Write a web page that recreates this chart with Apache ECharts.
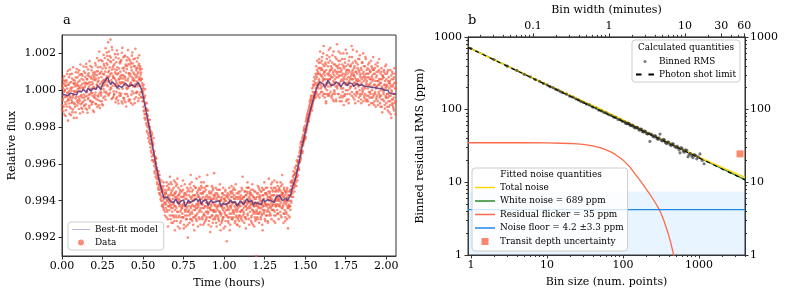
<!DOCTYPE html>
<html><head><meta charset="utf-8">
<script src="https://cdn.jsdelivr.net/npm/echarts@6/dist/echarts.min.js"></script>
<style>html,body{margin:0;padding:0;background:#fff}#c{width:789px;height:297px}</style>
</head><body><div id="c"></div>
<script>
// ---------- Panel a: light curve ----------
// two interleaved exposure sets (set B is offset by half a step)
const dataStartHours = 0;
const dataStepHours = 0.002;
const dataOffsetHoursB = 0.001;
// relative flux of each exposure, in ppm from 1
const dataFluxPpmA = [
-820,310,-540,120,-1150,480,-90,760,-380,20,
-650,-1400,250,-310,540,-880,90,-160,1050,-470,
300,-720,-60,-1280,410,860,-350,-980,150,-520,
-30,640,-1190,-400,1250,-260,380,-700,-50,520,
-900,210,-450,980,-110,-1500,330,-620,700,60,
450,-350,-1020,120,830,-580,-40,1400,-760,260,
-260,880,-690,350,-1180,90,560,-420,1020,-830,
160,-540,720,-990,410,1260,-310,-70,590,-1220,
-480,380,920,-240,-840,1580,40,-560,290,700,
-120,1080,-650,430,-300,810,-1100,590,150,-390,
980,-260,540,-720,1350,110,-480,820,300,-900,
450,1250,-340,680,-820,2100,190,-580,930,-90,
1640,-150,720,-600,380,1180,-820,520,60,1420,
860,-90,1750,420,-510,1200,640,-180,2050,300,
1380,220,2600,680,-220,1050,460,1860,-150,870,
150,1520,560,-480,1130,2200,240,780,-360,1340,
680,-200,1420,330,980,-650,1780,520,-90,1100,
-380,860,1960,240,-720,620,1180,-150,430,1530,
1010,-300,650,1640,-620,390,2300,80,820,-420,
420,1220,-540,760,1880,-210,560,1320,-880,260,
1150,70,1790,-330,640,1420,-600,930,240,1610,
-520,880,420,1500,-240,1080,300,2050,-780,650,
960,-160,1300,540,-700,1720,180,820,-380,1180,
480,1560,-90,900,220,-600,1340,620,1900,-240,
700,1300,-100,520,960,-350,620,80,-420,240,
-180,-900,300,-1150,-420,-1300,50,-1600,-700,-1050,
-1500,-700,-2200,-1100,-2000,-1400,-2600,-1600,-1950,-2500,
-2300,-1600,-2900,-2200,-3300,-2500,-2700,-3600,-2400,-3200,
-3000,-3800,-2600,-3500,-4100,-3300,-4500,-3600,-4200,-3700,
-4300,-3700,-4800,-4200,-5100,-4400,-4700,-5400,-4600,-4900,
-5200,-4600,-5600,-5000,-5900,-5300,-4900,-5800,-5500,-6200,
-5300,-6300,-5800,-5000,-6500,-5700,-6100,-5400,-6800,-5600,
-6400,-5500,-6900,-5900,-5200,-6600,-6000,-7400,-5700,-6300,
-5300,-6500,-5900,-4700,-6200,-7000,-5600,-6400,-5100,-6800,
-6600,-5400,-7200,-6100,-5700,-6900,-4900,-6300,-7600,-5800,
-5600,-6800,-5200,-6400,-7100,-5900,-4800,-6600,-6100,-5300,
-6900,-5700,-6300,-7500,-5400,-6600,-6000,-7100,-5200,-6400,
-5500,-6700,-6200,-4900,-6900,-5800,-7300,-6100,-5600,-6500,
-6800,-5600,-7400,-6300,-5900,-7000,-5300,-6600,-8000,-6100,
-5400,-6500,-6100,-7200,-5100,-6700,-5800,-4600,-6300,-7000,
-6600,-5500,-7100,-6000,-5700,-6900,-6300,-5200,-7600,-5900,
-5700,-6800,-5300,-6400,-7000,-4800,-6200,-6700,-5500,-6100,
-6300,-5400,-6900,-5800,-4700,-6500,-6100,-7300,-5600,-5200,
-6600,-5900,-5300,-7000,-6200,-5600,-6800,-5000,-6400,-7200,
-5500,-6300,-7100,-5800,-6600,-5200,-6900,-6100,-4600,-6400,
-6700,-5800,-7300,-6100,-5500,-6900,-6400,-7700,-5900,-6200,
-5600,-6500,-5200,-6800,-6100,-7200,-5400,-6600,-5900,-4500,
-6500,-5700,-7000,-6200,-5300,-6800,-6000,-7400,-5600,-6300,
-5800,-6900,-6300,-5400,-7100,-6000,-6600,-5100,-6700,-7600,
-6800,-5900,-7200,-6300,-5600,-7000,-6500,-5300,-6900,-6100,
-5700,-6600,-6000,-7400,-5400,-6800,-6200,-5800,-8200,-6300,
-6500,-5600,-7100,-6100,-5900,-6900,-5300,-6700,-6300,-7300,
-5600,-6400,-6900,-5200,-6200,-7000,-5800,-6600,-5400,-6100,
-6700,-5700,-6300,-7200,-5900,-6500,-5100,-6900,-6200,-5600,
-6600,-7300,-5800,-6400,-6900,-5500,-7100,-6200,-5900,-6800,
-5500,-6600,-6100,-7000,-5300,-6500,-5900,-4700,-6800,-6200,
-6400,-5800,-7200,-6000,-5500,-6900,-6300,-7500,-5700,-6100,
-5500,-6400,-5000,-6700,-6100,-5300,-7000,-5800,-6300,-5600,
-6600,-5700,-6200,-7100,-5400,-6800,-6000,-5100,-6500,-7300,
-5800,-6700,-6300,-7400,-5900,-6600,-5500,-7000,-6200,-9000,
-6500,-5600,-6900,-6100,-5200,-6700,-6300,-5800,-7200,-5400,
-5700,-6600,-6000,-7000,-5500,-6400,-6800,-5300,-6200,-7600,
-6300,-5400,-6700,-5900,-5000,-6500,-6100,-7100,-5600,-6200,
-5600,-6800,-6200,-5300,-6500,-7200,-5800,-6400,-4800,-6600,
-6200,-5500,-6700,-5800,-6400,-5100,-7000,-5900,-6300,-5400,
-5500,-6500,-6000,-7100,-5700,-4900,-6600,-6200,-5300,-6800,
-6300,-5400,-6000,-5000,-6700,-5800,-6200,-5500,-7000,-5900,
-5300,-6200,-5800,-6600,-5000,-6100,-5500,-6900,-5700,-4600,
-6400,-5600,-6200,-7200,-5800,-5300,-6700,-6000,-5500,-6900,
-5500,-6600,-6100,-5400,-7000,-5800,-6300,-7500,-5700,-6400,
-6200,-5700,-6900,-5500,-6300,-5000,-6000,-5400,-4900,-5800,
-5000,-5600,-4700,-5300,-4400,-5100,-4600,-5500,-4200,-4900,
-4500,-5000,-4100,-4700,-3800,-4400,-4900,-3900,-4300,-3600,
-3800,-4300,-3400,-3900,-3100,-3600,-2900,-3700,-3300,-2800,
-3000,-2600,-3300,-2500,-2900,-2200,-2700,-2000,-2500,-2300,
-2100,-2600,-1700,-2200,-1500,-2000,-1300,-1800,-1600,-1100,
-1300,-1700,-900,-1400,-600,-1200,-500,-1000,-300,-900,
-500,-1100,100,-700,300,-400,500,-300,700,-100,
400,-300,900,100,1300,-200,700,1600,200,1000,
900,100,1500,500,-400,1200,2100,300,800,-100,
1200,200,1800,700,-300,1400,600,2400,300,1000,
-400,800,1500,100,-700,1100,400,1900,-200,600,
1300,200,900,2200,-300,1000,600,1600,-100,800,
700,-400,1200,300,1900,-200,900,500,-600,1400,
-100,1100,600,1800,200,-500,1300,700,2500,100,
1000,300,1600,-200,800,1400,400,-600,1200,2000,
500,-300,1100,600,1700,-400,900,100,1300,-800,
1200,400,-300,1500,800,2200,0,1000,600,-500,
-200,900,1400,300,-700,1100,500,1800,100,700,
1300,200,800,2400,-100,1000,600,1500,-400,900,
400,1200,-500,700,1600,100,-300,1000,500,2100,
900,-200,1400,500,-600,1100,300,1700,0,800,
-300,700,1200,-700,400,1500,100,-100,900,2000,
1000,200,-400,800,1300,-200,600,1700,300,-600,
500,-500,900,100,1400,-300,700,-800,1100,300,
-100,1000,400,1600,-400,700,0,1200,500,-700,
600,-300,1100,-800,300,900,-200,1400,100,-500,
-400,800,200,1300,-600,500,1000,-200,1700,300,
400,-700,900,0,-300,1200,-900,600,100,800,
-500,700,-100,1000,300,-800,500,1300,-300,200,
600,-400,900,-900,200,-200,1100,-600,400,-1200,
-300,500,-800,300,-1300,800,0,-500,1000,-700,
200,-900,600,-400,-1100,400,-200,900,-600,100
];
const dataFluxPpmB = [
-1050,150,-480,620,-260,-890,340,-1320,-20,510,
230,-760,-1080,420,-350,880,-580,-120,-1650,300,
-540,710,-230,-900,1120,-410,60,-1350,450,-690,
890,-620,150,-1040,-280,560,-1500,320,-80,-760,
380,-1200,690,-350,-60,1150,-830,240,-540,960,
-700,240,1080,-470,520,-1260,130,-310,870,-950,
620,-380,-1010,790,140,-620,1290,-230,-840,400,
-340,940,280,-760,1430,-120,610,-1050,350,820,
1120,-410,190,760,-950,450,-220,1320,-600,80,
640,-780,1250,-150,320,-640,950,170,-1180,710,
-380,860,1480,-120,620,-760,1020,280,1750,-290,
1040,-530,520,1610,-190,880,-970,340,1260,60,
-280,1020,460,-760,1580,230,890,-410,1920,570,
1320,280,-340,1010,2280,560,-80,1470,740,1860,
480,1650,980,-280,2100,760,1240,30,1580,2750,
1780,90,920,2350,430,-420,1260,680,1640,-60,
-250,1140,620,1960,230,890,-480,1520,410,2160,
1250,310,-560,920,1720,80,580,-290,1460,740,
360,1580,-190,820,2040,440,-720,1200,640,1780,
1060,-420,1840,290,690,-650,1390,960,120,1620,
-200,1320,520,2180,140,900,-500,1700,780,280,
1400,380,-690,1240,730,1880,-60,560,1450,200,
1680,520,880,-480,1300,320,2250,690,-150,1070,
-100,1200,750,1760,320,980,-450,1440,560,1200,
1100,240,850,-380,600,1150,-100,380,-600,-50,
-600,100,-1100,-400,-1500,-800,-300,-1300,-1000,-1800,
-1000,-1900,-1300,-2300,-1700,-1100,-2400,-1800,-2800,-2100,
-2700,-2000,-3100,-2500,-2900,-3400,-2300,-3800,-2800,-3000,
-3500,-2900,-3900,-3400,-3800,-4400,-3600,-4000,-4700,-3900,
-4000,-4600,-4300,-5000,-4500,-4800,-5300,-4400,-5100,-5600,
-4800,-5400,-5100,-5700,-5300,-6000,-5200,-5500,-6300,-5400,
-6000,-5500,-6400,-5200,-5900,-6200,-5600,-6600,-5800,-6100,
-5600,-6200,-5000,-6500,-6000,-5400,-7000,-5800,-6300,-5100,
-6100,-5400,-6800,-5700,-6300,-5000,-6000,-7200,-5500,-6200,
-5700,-6400,-5900,-6800,-5300,-6200,-7100,-5600,-6500,-5000,
-6300,-5500,-6900,-5800,-5100,-6600,-6100,-7400,-5700,-6000,
-5900,-6800,-5600,-6200,-7200,-5500,-6500,-5800,-6900,-6300,
-6400,-5800,-6900,-5400,-6200,-7500,-5700,-6300,-5100,-6600,
-5900,-6500,-7000,-5700,-6400,-6800,-5500,-7300,-6100,-6600,
-6300,-5700,-6800,-5500,-6100,-7000,-5300,-6400,-5900,-5000,
-5800,-6700,-6200,-5400,-7300,-6000,-6500,-5700,-6900,-6300,
-6500,-5900,-5300,-6800,-6200,-7100,-5600,-6400,-5800,-7400,
-5700,-6200,-6600,-5300,-7000,-5900,-5400,-6400,-6100,-5000,
-6200,-5600,-6900,-6400,-5800,-7300,-5500,-6700,-6000,-5300,
-6800,-5900,-6300,-5400,-7000,-6100,-5700,-6600,-5200,-6300,
-5900,-6600,-6200,-7100,-5600,-6400,-5800,-6900,-6500,-7400,
-6300,-5500,-6800,-5900,-5300,-6500,-7000,-5700,-6200,-6600,
-5800,-6900,-6300,-5600,-6600,-7200,-5900,-6400,-5400,-6800,
-6500,-5700,-7000,-6200,-5800,-6600,-5400,-7300,-6000,-6300,
-6000,-6700,-5800,-7100,-6400,-5600,-6900,-6200,-7500,-5900,
-6400,-5900,-6700,-5500,-7100,-6000,-6500,-5700,-6800,-6200,
-5800,-6900,-6400,-7200,-5700,-6500,-6100,-7600,-6000,-5500,
-6300,-5800,-6700,-5500,-7000,-6100,-5600,-6500,-6900,-5300,
-5900,-6600,-6100,-5400,-7100,-6400,-5800,-6800,-6200,-7300,
-6500,-5900,-7000,-6200,-5600,-6800,-6300,-7400,-5800,-6600,
-6300,-5700,-6900,-5900,-6500,-5400,-7100,-6100,-5800,-6600,
-5800,-6700,-6100,-5500,-6900,-6300,-5700,-7000,-6500,-5300,
-6200,-5600,-6800,-5900,-5300,-6400,-6000,-7300,-5500,-6100,
-5900,-6400,-5600,-6900,-6200,-7200,-5700,-6500,-6100,-5400,
-6600,-5800,-6300,-5500,-6900,-6100,-7100,-5900,-6700,-6300,
-5800,-6600,-6200,-7000,-5600,-6400,-5300,-6700,-6100,-5900,
-6400,-5800,-6900,-6200,-5500,-6700,-6000,-7300,-5700,-6500,
-5700,-6300,-5400,-6600,-6100,-7000,-5600,-6200,-5300,-6800,
-6300,-5700,-6600,-5900,-7100,-6200,-5500,-6800,-6000,-5800,
-5600,-6300,-5900,-6800,-5300,-6100,-5700,-6500,-5000,-6200,
-6200,-5700,-6500,-5300,-6800,-6000,-5500,-7200,-5900,-6300,
-5500,-6200,-5700,-6500,-5900,-5200,-6700,-6000,-5400,-6300,
-6000,-5400,-6300,-5700,-6800,-5200,-5900,-6400,-5600,-5100,
-5600,-6300,-5800,-6700,-5400,-6100,-6500,-5700,-7100,-6000,
-6200,-5600,-6700,-5900,-5300,-6400,-6000,-5500,-6800,-6300,
-5700,-6300,-6000,-5400,-6500,-5700,-5200,-6100,-5500,-5000,
-5400,-4900,-5800,-5100,-4600,-5300,-4800,-5100,-4500,-5200,
-4800,-4300,-5200,-4500,-4100,-4700,-3900,-4600,-4000,-4300,
-4200,-3600,-3900,-3300,-3800,-3200,-3500,-2800,-3400,-3000,
-2800,-3400,-2700,-3000,-2400,-2800,-2100,-2700,-2200,-2600,
-2500,-1900,-2300,-1600,-2100,-1400,-1900,-1500,-1200,-1700,
-1600,-1000,-1500,-800,-1300,-700,-1100,-400,-1000,-600,
-900,-300,-800,-100,-600,200,-500,-200,300,-400,
-100,600,-400,800,300,-100,1100,400,900,-300,
300,1200,600,1700,-200,900,400,1500,100,1100,
800,1600,-100,1100,500,2000,900,-200,1300,600,
1000,-200,600,1400,-600,300,1700,0,900,-300,
400,1500,800,-200,1800,600,1100,2300,200,1300,
1100,300,-300,1500,700,-500,1000,2100,400,0,
800,-200,1400,400,1000,-600,1700,200,900,1300,
-200,1200,700,2100,300,1000,-400,1600,800,200,
1000,100,-600,800,1400,-100,500,2000,-300,700,
600,1700,-200,900,300,1300,-600,1100,2000,400,
1100,0,700,-500,1600,400,1000,-200,1300,600,
200,1400,900,-300,1800,600,1100,2200,300,800,
800,-200,1300,400,-700,1000,600,1500,-100,300,
-100,1200,600,1700,200,-400,1000,500,1900,-200,
900,300,-500,1100,600,-200,1500,0,700,-600,
500,1300,-300,700,100,1800,-500,900,400,1100,
-300,700,1200,-600,300,900,-100,1500,-400,600,
1000,-200,600,-700,1300,200,800,-400,1100,1800,
-200,900,300,-600,1200,-100,500,-900,700,200,
1000,-300,500,1500,-800,300,-100,1100,600,-400,
-300,600,-900,400,1000,-500,200,-1200,800,0,
700,-200,1100,-600,300,-1000,900,100,-400,1400,
-700,300,-200,1000,-1100,500,-400,700,-900,100,
400,-600,1100,-300,200,-1500,600,-100,-800,900,
-500,300,-1000,700,-200,1200,-700,100,-1300,400
];
const modelStartHours = 0;
const modelStepHours = 0.01;
const modelFluxPpm = [
-200,-100,-250,-150,-300,-150,-50,-200,-150,-250,
-50,-150,-100,50,0,-100,100,0,-50,100,
150,50,250,150,50,300,450,350,700,500,
300,450,550,300,100,250,350,150,250,400,
450,200,100,300,400,200,250,450,350,50,
-300,-750,-1200,-1650,-2100,-2600,-3100,-3600,-4100,-4500,
-4900,-5250,-5600,-5850,-5950,-5800,-5900,-6050,-5950,-6100,
-5900,-6050,-6200,-6050,-6150,-5950,-6300,-6150,-5950,-6100,
-6200,-6000,-6100,-5900,-6050,-5900,-6200,-6000,-6100,-5950,
-6250,-6100,-5950,-6100,-6200,-6050,-6150,-6000,-6300,-6150,
-6050,-6200,-6250,-6100,-5950,-6100,-6200,-6050,-6300,-6150,
-6000,-6100,-6200,-6050,-5900,-6050,-6150,-6000,-6250,-6100,
-6000,-6150,-6050,-6200,-5900,-6050,-6100,-5950,-5850,-6000,
-5950,-6100,-5800,-5900,-5700,-5850,-6000,-5900,-5850,-6000,
-6050,-5700,-5300,-5050,-4800,-4400,-4000,-3550,-3100,-2700,
-2300,-1900,-1500,-1150,-800,-500,-200,100,300,450,
500,350,150,300,550,400,250,350,300,450,
500,350,200,300,450,350,250,400,500,350,
200,300,400,250,150,300,350,200,100,200,
300,150,50,150,250,100,0,100,150,0,
-100,0,-150,-50,-200,-150,-200
];
const timeTicks = [0, 0.25, 0.5, 0.75, 1.0, 1.25, 1.5, 1.75, 2.0];
const fluxTicks = [0.992, 0.994, 0.996, 0.998, 1.000, 1.002];

// ---------- Panel b: binned RMS ----------
const rmsBinSizes = [1,2,3,4,5,6,7,8,9,10,11,12,13,14,15,16,18,20,22,24,26,28,30,33,36,40,44,48,52,56,60,65,70,75,80,86,92,98,
  105,108,112,116,120,124,128,132,136,140,145,150,155,160,165,170,175,180,186,192,198,204,210,218,226,232,240,248,255,262,270,280,290,298,307,318,330,340,350,362,375,388,400,415,430,445,460,480,500,515,529,545,562,580,600,620,640,665,690,716,740,770,800,832,865,900,935,970,1030,1100,1165];
const rmsValuesPpm = [690,488,396,346,306,282,259,245,228,219,207,200,190,185,177,171,163,153,148,140,136,129,126,119,116,108,105,98,96,91,90,85,83,79,78,73,73,69,
  68,65,64,65,64,61,60,61,60,57,56,57,57,54,52,54,54,50,49,51,50,47,46,47,36.5,46,45,43,42,44,43,40,39,41,46,38,37,39,38.5,35,34,36,35.5,33,32,34,33.5,31,30,31.5,30,28,25.4,30,29,27,26,28,27.5,22.4,24,25,23,21.8,24,23.5,21,22.4,24.6,20,18];
const lineBins = [0.913, 4027];
const whiteNoisePpm = [721, 10.86];
const photonLimitPpm = [717, 10.8];
const totalNoiseBins = [0.913, 1, 2, 5, 10, 20, 50, 100, 200, 300, 500, 1000, 2000, 4027];
const totalNoisePpm = [722, 690, 488, 310, 221, 158, 102, 72, 49.6, 40.1, 31.1, 22.2, 16, 11.7];
const flickerBins = [0.913, 5, 10, 20, 30, 40, 50, 60, 70, 80, 90, 100, 120, 140, 160, 180, 200, 225, 250, 275, 300, 325, 350, 375, 400, 425, 450, 475, 500];
const flickerPpm = [35, 35, 34.8, 34.2, 33.2, 31.8, 30, 28, 26, 24, 22, 20.2, 16.8, 13.6, 11.3, 9.6, 8.2, 6.9, 5.8, 4.95, 4.2, 3.5, 2.85, 2.3, 1.85, 1.47, 1.15, 0.9, 0.7];
const noiseFloorPpm = 4.2;
const noiseFloorErrPpm = 3.3;
const transitDepthBin = 3467;
const transitDepthUncPpm = 24.6;
const minutesPerPoint = 0.917 / 60;
const binTicks = [1, 10, 100, 1000];
const binMinorTicks = [2,3,4,5,6,7,8,9,20,30,40,50,60,70,80,90,200,300,400,500,600,700,800,900,2000,3000,4000];
const minuteTicks = [0.1, 1, 10, 30, 60];
const minuteMinorTicks = [0.02,0.03,0.04,0.05,0.06,0.07,0.08,0.09,0.2,0.3,0.4,0.5,0.6,0.7,0.8,0.9,2,3,4,5,6,7,8,9,20,40,50];
const rmsTicks = [1, 10, 100, 1000];
const rmsMinorTicks = [2,3,4,5,6,7,8,9,20,30,40,50,60,70,80,90,200,300,400,500,600,700,800,900];

// ---------- build ----------
const FONT = 'DejaVu Serif';
const AX = '#333';
const dataPts = dataFluxPpmA.map((v, i) => [dataStartHours + i * dataStepHours, 1 + v * 1e-6])
  .concat(dataFluxPpmB.map((v, i) => [dataStartHours + dataOffsetHoursB + i * dataStepHours, 1 + v * 1e-6]));
const modelPts = modelFluxPpm.map((v, i) => [modelStartHours + i * modelStepHours, 1 + v * 1e-6]);
const zip = (a, b) => a.map((x, i) => [x, b[i]]);
const binMin = lineBins[0], binMax = lineBins[1];

const lbl = (extra) => Object.assign({color: '#000', fontFamily: FONT, fontSize: 11}, extra);
function majorAxis(o) {
  return Object.assign({
    axisLine: {show: true, lineStyle: {color: AX, width: 1}},
    splitLine: {show: false},
  }, o);
}
function minorAxis(o) {
  return Object.assign({
    axisLine: {show: false},
    splitLine: {show: false},
    axisLabel: {show: false},
  }, o);
}
const tick = (vals, len) => ({show: true, length: len, lineStyle: {color: AX}, customValues: vals});
const nameStyle = {color: '#000', fontFamily: FONT, fontSize: 11};
const legText = {color: '#000', fontFamily: FONT, fontSize: 8.9, lineHeight: 11};
const LINE_ICON = 'path://M0,0h20v1.5h-20z';
const DASH_ICON = 'path://M0,0h4v1.4h-4zM9,0h4v1.4h-4z';

const option = {
  animation: false,
  backgroundColor: '#fff',
  grid: [
    {left: 62, top: 35, width: 334, height: 221, show: true, borderColor: AX, borderWidth: 1, backgroundColor: 'transparent'},
    {left: 468, top: 35, width: 277, height: 220, show: true, borderColor: AX, borderWidth: 1, backgroundColor: 'transparent'}
  ],
  xAxis: [
    majorAxis({type: 'value', gridIndex: 0, min: 0, max: 2.06, axisTick: tick(timeTicks, 3.5),
      axisLabel: lbl({customValues: timeTicks, margin: 5, formatter: v => v.toFixed(2)}),
      name: 'Time (hours)', nameLocation: 'middle', nameGap: 22, nameTextStyle: nameStyle}),
    majorAxis({type: 'log', gridIndex: 1, min: binMin, max: binMax, position: 'bottom', axisTick: tick(binTicks, 3.5),
      axisLabel: lbl({customValues: binTicks, margin: 5, formatter: v => String(v)}),
      name: 'Bin size (num. points)', nameLocation: 'middle', nameGap: 22, nameTextStyle: nameStyle}),
    minorAxis({type: 'log', gridIndex: 1, min: binMin, max: binMax, position: 'bottom', axisTick: tick(binMinorTicks, 2)}),
    majorAxis({type: 'log', gridIndex: 1, min: binMin * minutesPerPoint, max: binMax * minutesPerPoint, position: 'top',
      axisTick: tick(minuteTicks, 3.5),
      axisLabel: lbl({customValues: minuteTicks, margin: 5, formatter: v => String(v)}),
      name: 'Bin width (minutes)', nameLocation: 'middle', nameGap: 14, nameTextStyle: nameStyle}),
    minorAxis({type: 'log', gridIndex: 1, min: binMin * minutesPerPoint, max: binMax * minutesPerPoint, position: 'top',
      axisTick: tick(minuteMinorTicks, 2)})
  ],
  yAxis: [
    majorAxis({type: 'value', gridIndex: 0, min: 0.991, max: 1.003, axisTick: tick(fluxTicks, 3.5),
      axisLabel: lbl({customValues: fluxTicks, margin: 6, formatter: v => v.toFixed(3)}),
      name: 'Relative flux', nameLocation: 'middle', nameGap: 44, nameTextStyle: nameStyle}),
    majorAxis({type: 'log', gridIndex: 1, min: 1, max: 1000, position: 'left', axisTick: tick(rmsTicks, 3.5),
      axisLabel: lbl({customValues: rmsTicks, margin: 6, formatter: v => String(v)}),
      name: 'Binned residual RMS (ppm)', nameLocation: 'middle', nameGap: 42, nameTextStyle: nameStyle}),
    minorAxis({type: 'log', gridIndex: 1, min: 1, max: 1000, position: 'left', axisTick: tick(rmsMinorTicks, 2)}),
    majorAxis({type: 'log', gridIndex: 1, min: 1, max: 1000, position: 'right', axisTick: tick(rmsTicks, 3.5),
      axisLabel: lbl({customValues: rmsTicks, margin: 5, formatter: v => String(v)})}),
    minorAxis({type: 'log', gridIndex: 1, min: 1, max: 1000, position: 'right', axisTick: tick(rmsMinorTicks, 2)})
  ],
  legend: [
    {data: [{name: 'Best-fit model', icon: 'path://M0,0h18v1h-18z', itemStyle: {color: '#b9b5dd'}}, {name: 'Data', icon: 'circle'}],
     left: 68, top: 222, orient: 'vertical', padding: [2, 6, 2, 4], itemWidth: 18, itemHeight: 6, itemGap: 2,
     textStyle: legText, borderColor: '#ccc', borderWidth: 1, borderRadius: 3, backgroundColor: 'rgba(255,255,255,0.8)', selectedMode: false},
    {data: [{name: 'Binned RMS', icon: 'circle'}, {name: 'Photon shot limit', icon: DASH_ICON}],
     left: 632, top: 40, orient: 'vertical', padding: [16, 4, 2, 4], itemWidth: 18, itemHeight: 3, itemGap: 2,
     textStyle: legText, borderColor: '#ccc', borderWidth: 1, borderRadius: 3, backgroundColor: 'rgba(255,255,255,0.8)', selectedMode: false},
    {data: [{name: 'Total noise', icon: LINE_ICON}, {name: 'White noise = 689 ppm', icon: LINE_ICON},
            {name: 'Residual flicker = 35 ppm', icon: LINE_ICON}, {name: 'Noise floor = 4.2 ±3.3 ppm', icon: LINE_ICON},
            {name: 'Transit depth uncertainty', icon: 'path://M0,0h10v10h-10z'}],
     left: 472, top: 168, orient: 'vertical', padding: [14, 4, 4, 3], itemWidth: 20, itemHeight: 7, itemGap: 2.5,
     textStyle: legText, borderColor: '#ccc', borderWidth: 1, borderRadius: 3, backgroundColor: 'rgba(255,255,255,0.8)', selectedMode: false}
  ],
  graphic: [
    {type: 'text', left: 63, top: 14, style: {text: 'a', fill: '#000', font: '13px "DejaVu Serif"'}},
    {type: 'text', left: 468, top: 14, style: {text: 'b', fill: '#000', font: '13px "DejaVu Serif"'}},
    {type: 'text', x: 686, y: 48, z: 100, style: {text: 'Calculated quantities', fill: '#000', font: '8.9px "DejaVu Serif"', align: 'center', verticalAlign: 'middle'}},
    {type: 'text', x: 551, y: 175, z: 100, style: {text: 'Fitted noise quantities', fill: '#000', font: '8.9px "DejaVu Serif"', align: 'center', verticalAlign: 'middle'}}
  ],
  series: [
    {name: 'Data', type: 'scatter', xAxisIndex: 0, yAxisIndex: 0, data: dataPts, symbolSize: 2.6,
     itemStyle: {color: 'rgba(246,90,64,0.85)'}, z: 2},
    {name: 'Best-fit model', type: 'line', xAxisIndex: 0, yAxisIndex: 0, data: modelPts, symbol: 'none',
     lineStyle: {color: 'rgba(88,50,120,0.85)', width: 1.5}, itemStyle: {color: 'rgba(88,50,120,0.85)'}, z: 3},
    {name: 'Residual flicker = 35 ppm', type: 'line', xAxisIndex: 1, yAxisIndex: 1, data: zip(flickerBins, flickerPpm), symbol: 'none',
     lineStyle: {color: '#fb6a4a', width: 1.3}, itemStyle: {color: '#fb6a4a'}, z: 3},
    {name: 'Noise floor = 4.2 ±3.3 ppm', type: 'line', xAxisIndex: 1, yAxisIndex: 1,
     data: [[binMin, noiseFloorPpm], [binMax, noiseFloorPpm]], symbol: 'none',
     lineStyle: {color: '#1e88e5', width: 1.3}, itemStyle: {color: '#1e88e5'}, z: 3,
     markArea: {silent: true, itemStyle: {color: 'rgba(30,144,255,0.1)'},
       data: [[{coord: [binMin, Math.max(1, noiseFloorPpm - noiseFloorErrPpm)]}, {coord: [binMax, noiseFloorPpm + noiseFloorErrPpm]}]]}},
    {name: 'White noise = 689 ppm', type: 'line', xAxisIndex: 1, yAxisIndex: 1, data: zip(lineBins, whiteNoisePpm), symbol: 'none',
     lineStyle: {color: '#2a8a2a', width: 1.4}, itemStyle: {color: '#2a8a2a'}, z: 4},
    {name: 'Total noise', type: 'line', xAxisIndex: 1, yAxisIndex: 1, data: zip(totalNoiseBins, totalNoisePpm), symbol: 'none',
     lineStyle: {color: '#ffd400', width: 1.4}, itemStyle: {color: '#ffd400'}, z: 5},
    {name: 'Photon shot limit', type: 'line', xAxisIndex: 1, yAxisIndex: 1, data: zip(lineBins, photonLimitPpm), symbol: 'none',
     lineStyle: {color: '#000', width: 1.2, type: [4, 4]}, itemStyle: {color: '#000'}, z: 6},
    {name: 'Binned RMS', type: 'scatter', xAxisIndex: 1, yAxisIndex: 1, data: zip(rmsBinSizes, rmsValuesPpm), symbolSize: 3.2,
     itemStyle: {color: 'rgba(35,35,35,0.75)'}, z: 7},
    {name: 'Transit depth uncertainty', type: 'scatter', xAxisIndex: 1, yAxisIndex: 1, data: [[transitDepthBin, transitDepthUncPpm]],
     symbol: 'rect', symbolSize: 7, itemStyle: {color: '#fb6a4a'}, z: 7}
  ]
};
const chart = echarts.init(document.getElementById('c'), null, {renderer: 'canvas'});
chart.setOption(option);
</script></body></html>
